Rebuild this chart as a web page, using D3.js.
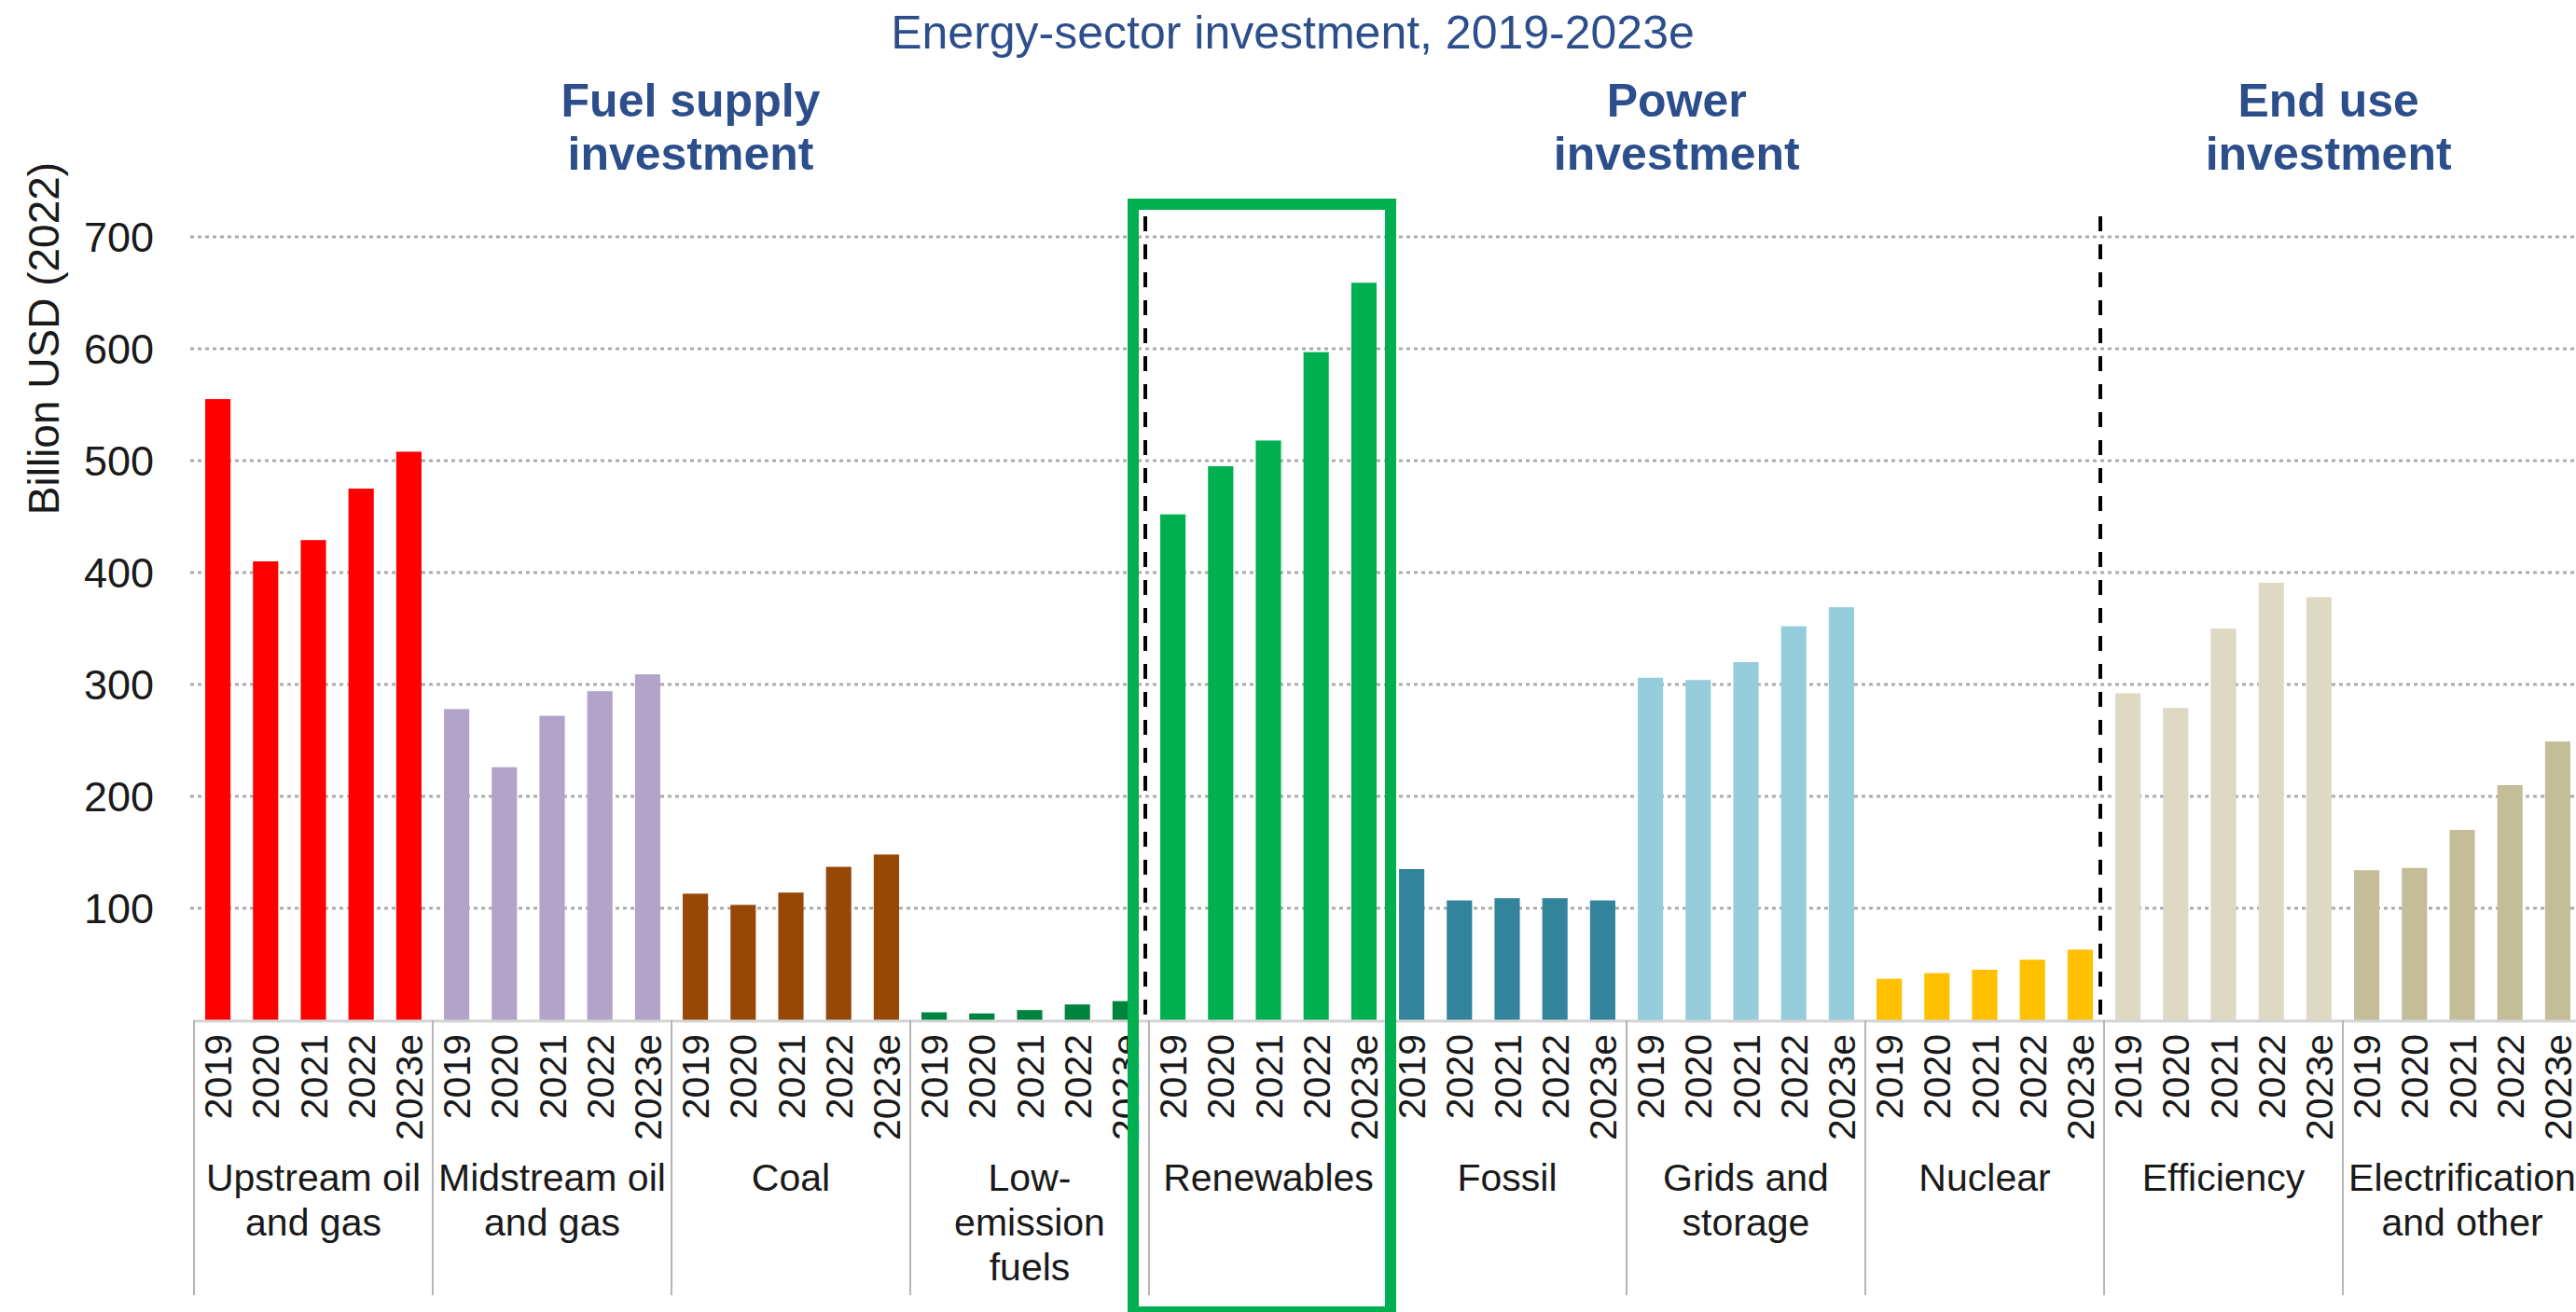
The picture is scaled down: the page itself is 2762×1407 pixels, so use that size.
<!DOCTYPE html>
<html>
<head>
<meta charset="utf-8">
<script src="https://cdn.jsdelivr.net/npm/d3@7"></script>
<style>
  html, body { margin: 0; padding: 0; background: #fff; }
  svg { display: block; font-family: "Liberation Sans", Arial, sans-serif; }
</style>
</head>
<body>
<div id="chart"></div>
<script>

// data (billion USD 2022)
var years = ['2019', '2020', '2021', '2022', '2023e']

var categories = ['upstream', 'midstream', 'coal', 'lowemission', 'renewables',
  'fossil', 'grids', 'nuclear', 'efficiency', 'electrification']

var category_lines = [
  ['Upstream oil', 'and gas'],
  ['Midstream oil', 'and gas'],
  ['Coal'],
  ['Low-', 'emission', 'fuels'],
  ['Renewables'],
  ['Fossil'],
  ['Grids and', 'storage'],
  ['Nuclear'],
  ['Efficiency'],
  ['Electrification', 'and other']
]

var upstream = [555, 410, 429, 475, 508]
var midstream = [278, 226, 272, 294, 309]
var coal = [113, 103, 114, 137, 148]
var lowemission = [7, 6, 9, 14, 17]
var renewables = [452, 495, 518, 597, 659]
var fossil = [135, 107, 109, 109, 107]
var grids = [306, 304, 320, 352, 369]
var nuclear = [37, 42, 45, 54, 63]
var efficiency = [292, 279, 350, 391, 378]
var electrification = [134, 136, 170, 210, 249]

var colors = ['#ff0000', '#b2a3c8', '#974706', '#00843d', '#00b050',
  '#31849b', '#95cddd', '#ffc000', '#ddd9c3', '#c4bd97']

var y_ticks = [100, 200, 300, 400, 500, 600, 700]

var sections = [
  { lines: ['Fuel supply', 'investment'], pos: 2.08 },
  { lines: ['Power', 'investment'], pos: 6.21 },
  { lines: ['End use', 'investment'], pos: 8.94 }
]

var dividers = ['renewables', 'efficiency']

var series = [upstream, midstream, coal, lowemission, renewables,
  fossil, grids, nuclear, efficiency, electrification]

var width = 2762
var height = 1407

var svg = d3.select('#chart').append('svg')
  .attr('width', width)
  .attr('height', height)

var x0 = d3.scaleBand()
  .domain(categories)
  .range([208, 2768])

var x1 = d3.scaleBand()
  .domain(years)
  .range([0, x0.bandwidth()])
  .paddingInner(0.47)
  .paddingOuter(0.235)

var y = d3.scaleLinear()
  .domain([0, 700])
  .range([1094, 254])

var title_color = '#2c4f8c'

// title
svg.append('text')
  .attr('x', 1386)
  .attr('y', 52)
  .attr('text-anchor', 'middle')
  .attr('fill', title_color)
  .style('font-size', '50px')
  .text('Energy-sector investment, 2019-2023e')

// section headers
sections.forEach(function(s) {
  var t = svg.append('text')
    .attr('x', x0.range()[0] + s.pos * x0.step())
    .attr('y', 125)
    .attr('text-anchor', 'middle')
    .attr('fill', title_color)
    .style('font-size', '50px')
    .style('font-weight', 'bold')
  s.lines.forEach(function(line, i) {
    t.append('tspan')
      .attr('x', x0.range()[0] + s.pos * x0.step())
      .attr('dy', i === 0 ? 0 : 57)
      .text(line)
  })
})

// gridlines
svg.append('g')
  .selectAll('line')
  .data(y_ticks)
  .join('line')
  .attr('x1', x0.range()[0] - 4)
  .attr('x2', width)
  .attr('y1', function(d) { return y(d) })
  .attr('y2', function(d) { return y(d) })
  .attr('stroke', '#ababab')
  .attr('stroke-width', 3)
  .attr('stroke-dasharray', '4,4')

// y tick labels
svg.append('g')
  .selectAll('text')
  .data(y_ticks)
  .join('text')
  .attr('x', 165)
  .attr('y', function(d) { return y(d) })
  .attr('dy', '0.35em')
  .attr('text-anchor', 'end')
  .attr('fill', '#1a1a1a')
  .style('font-size', '45px')
  .text(function(d) { return d })

// y axis title
svg.append('text')
  .attr('transform', 'translate(63,363) rotate(-90)')
  .attr('text-anchor', 'middle')
  .attr('fill', '#1a1a1a')
  .style('font-size', '46px')
  .text('Billion USD (2022)')

// bars
categories.forEach(function(cat, ci) {
  var g = svg.append('g')
    .attr('transform', 'translate(' + x0(cat) + ',0)')

  g.selectAll('rect')
    .data(series[ci])
    .join('rect')
    .attr('x', function(d, i) { return x1(years[i]) })
    .attr('y', function(d) { return y(d) })
    .attr('width', x1.bandwidth())
    .attr('height', function(d) { return y(0) - y(d) })
    .attr('fill', colors[ci])

  // year labels
  g.selectAll('text.year')
    .data(years)
    .join('text')
    .attr('class', 'year')
    .attr('transform', function(d) {
      return 'translate(' + (x1(d) + x1.bandwidth() / 2 + 14.5) + ',1109) rotate(-90)'
    })
    .attr('text-anchor', 'end')
    .attr('fill', '#1a1a1a')
    .style('font-size', '41px')
    .text(function(d) { return d })

  // category label
  var t = g.append('text')
    .attr('x', x0.bandwidth() / 2)
    .attr('y', 1277)
    .attr('text-anchor', 'middle')
    .attr('fill', '#1a1a1a')
    .style('font-size', '41px')
  category_lines[ci].forEach(function(line, i) {
    t.append('tspan')
      .attr('x', x0.bandwidth() / 2)
      .attr('dy', i === 0 ? 0 : 48)
      .text(line)
  })
})

// baseline
svg.append('line')
  .attr('x1', x0.range()[0])
  .attr('x2', width)
  .attr('y1', y(0) + 1)
  .attr('y2', y(0) + 1)
  .attr('stroke', '#d4d4d4')
  .attr('stroke-width', 3)

// category separators
svg.append('g')
  .selectAll('line')
  .data(categories)
  .join('line')
  .attr('x1', function(d) { return x0(d) })
  .attr('x2', function(d) { return x0(d) })
  .attr('y1', y(0))
  .attr('y2', 1389)
  .attr('stroke', '#b5b5b5')
  .attr('stroke-width', 2)

// dashed dividers between sections
svg.append('g')
  .selectAll('line')
  .data(dividers)
  .join('line')
  .attr('x1', function(d) { return x0(d) - 4 })
  .attr('x2', function(d) { return x0(d) - 4 })
  .attr('y1', 232)
  .attr('y2', y(0) + 6)
  .attr('stroke', '#000')
  .attr('stroke-width', 4)
  .attr('stroke-dasharray', '16,14')

// highlight box round renewables
svg.append('rect')
  .attr('x', x0('renewables') - 17)
  .attr('y', 219)
  .attr('width', x0.bandwidth() + 20)
  .attr('height', 1188)
  .attr('fill', 'none')
  .attr('stroke', '#00b050')
  .attr('stroke-width', 12)

</script>
</body>
</html>
